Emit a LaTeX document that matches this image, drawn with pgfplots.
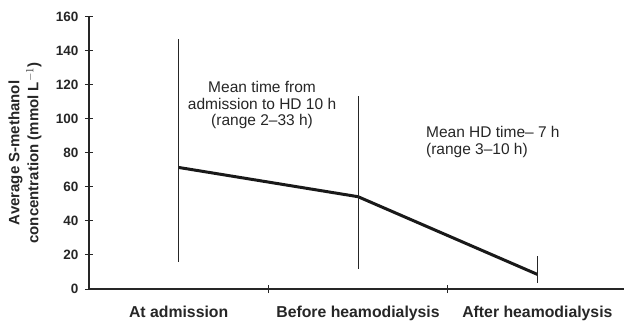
\documentclass[border=0pt]{standalone}
\usepackage{fontspec}
\setmainfont{Liberation Sans}
\usepackage{pgfplots}
\pgfplotsset{compat=1.18}
\begin{document}
\begin{tikzpicture}
\begin{axis}[name=ax, scale only axis, width=535bp, height=272bp,
  xmin=-0.5, xmax=2.483, ymin=0, ymax=160,
  axis lines*=left,
  axis line style={line width=1.2bp, black!85},
  xtick={0,1,2},
  xticklabels={At admission, Before heamodialysis, After heamodialysis},
  major x tick style={draw=none},
  minor xtick={0.5,1.5},
  ytick={0,20,...,160},
  tick align=center, major tick length=8bp, minor tick length=8bp,
  tick style={line width=1bp, black!85},
  /pgf/number format/assume math mode=true,
  yticklabel style={font=\bfseries\fontsize{13.5bp}{13.5bp}\selectfont, text=black!85, xshift=-3bp},
  xticklabel style={font=\bfseries\fontsize{15.8bp}{15.8bp}\selectfont, text=black!85, yshift=-10bp},
  ylabel={Average S-methanol\\concentration (mmol L$^{-1}$)},
  ylabel style={at={(axis description cs:-0.082,0.5)}, anchor=south, align=center,
    font=\bfseries\fontsize{15bp}{19bp}\selectfont, text=black!85},
  clip=false]
\addplot[line width=3bp, black!90, mark=none,
  error bars/.cd, y dir=both, y explicit,
  error bar style={line width=1bp, black!85}, error mark=none]
  coordinates {
    (0,71.5) += (0,75.5) -= (0,55.5)
    (1,54.3) += (0,59.2) -= (0,42.5)
    (2,8.6) += (0,10.8) -= (0,5.1)
  };
\node[align=center, font=\fontsize{15.5bp}{16.5bp}\selectfont, text=black!85]
  at (axis cs:0.465,108.2) {Mean time from\\admission to HD 10 h\\(range 2–33 h)};
\node[align=left, anchor=west, font=\fontsize{15.5bp}{16.5bp}\selectfont, text=black!85]
  at (axis cs:1.36,86.5) {Mean HD time– 7 h\\(range 3–10 h)};
\end{axis}
\pgfresetboundingbox
\path[use as bounding box] ([xshift=-89bp,yshift=-32bp]ax.south west) rectangle ([yshift=17bp]ax.north east);
\end{tikzpicture}
\end{document}
